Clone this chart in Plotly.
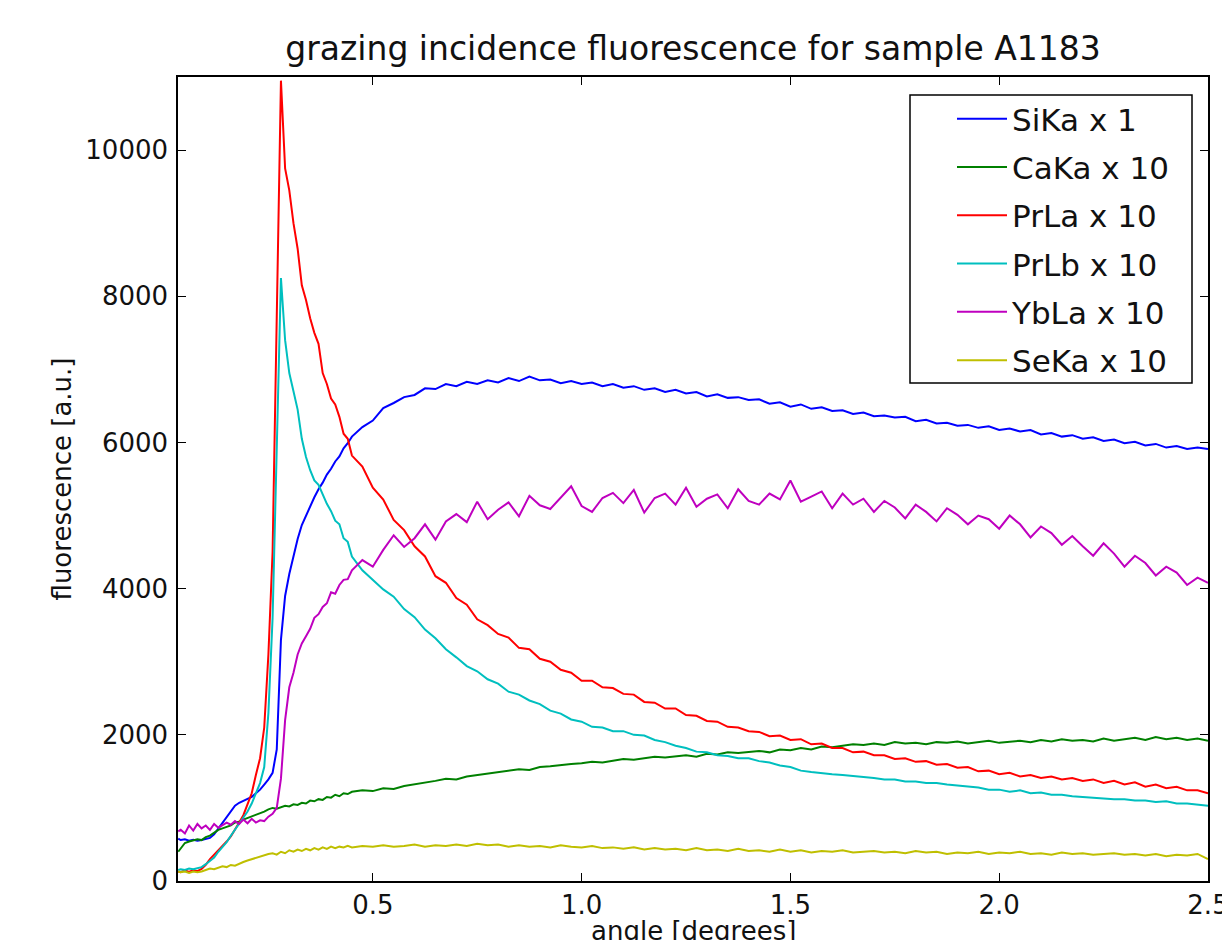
import plotly.graph_objects as go

# angle grid [degrees]
angle = [0.034, 0.04, 0.05, 0.06, 0.07, 0.08, 0.09, 0.10, 0.11, 0.12, 0.13, 0.14, 0.15,
         0.16, 0.17, 0.18, 0.19, 0.20, 0.21, 0.22, 0.23, 0.24, 0.25, 0.26, 0.27, 0.28,
         0.29, 0.30, 0.31, 0.32, 0.33, 0.34, 0.35, 0.36, 0.37, 0.38, 0.39, 0.40, 0.41,
         0.42, 0.43, 0.44, 0.45,
         0.475, 0.5, 0.525, 0.55, 0.575, 0.6, 0.625, 0.65, 0.675, 0.7,
         0.725, 0.75, 0.775, 0.8, 0.825, 0.85, 0.875, 0.9, 0.925, 0.95,
         0.975, 1.0, 1.025, 1.05, 1.075, 1.1, 1.125, 1.15, 1.175, 1.2,
         1.225, 1.25, 1.275, 1.3, 1.325, 1.35, 1.375, 1.4, 1.425, 1.45,
         1.475, 1.5, 1.525, 1.55, 1.575, 1.6, 1.625, 1.65, 1.675, 1.7,
         1.725, 1.75, 1.775, 1.8, 1.825, 1.85, 1.875, 1.9, 1.925, 1.95,
         1.975, 2.0, 2.025, 2.05, 2.075, 2.1, 2.125, 2.15, 2.175, 2.2,
         2.225, 2.25, 2.275, 2.3, 2.325, 2.35, 2.375, 2.4, 2.425, 2.45,
         2.475, 2.5]

sika = [580, 560, 570, 550, 565, 550, 560,
        570, 590, 640, 720, 800, 880, 960, 1030, 1070, 1100,
        1120, 1150, 1200, 1250, 1320, 1390, 1480, 1800, 3300, 3900,
        4200, 4450, 4680, 4870, 5000, 5130, 5250, 5360, 5450, 5560,
        5640, 5740, 5810, 5920, 5990, 6080,
        6210, 6300, 6470, 6540, 6620, 6650, 6740, 6730, 6800, 6770,
        6830, 6800, 6850, 6820, 6880, 6840, 6900, 6850, 6860, 6810,
        6840, 6800, 6820, 6770, 6800, 6750, 6770, 6720, 6740, 6690,
        6720, 6670, 6690, 6630, 6660, 6610, 6620, 6580, 6590, 6530,
        6550, 6490, 6520, 6460, 6480, 6430, 6440, 6390, 6410, 6360,
        6370, 6340, 6350, 6290, 6310, 6260, 6270, 6230, 6240, 6200,
        6220, 6170, 6190, 6150, 6170, 6110, 6130, 6080, 6100, 6050,
        6070, 6020, 6040, 5990, 6010, 5960, 5980, 5930, 5950, 5910,
        5930, 5910]

caka = [400, 450, 520, 540, 560, 570, 560,
        600, 620, 660, 700, 720, 740, 760, 800, 810, 840,
        860, 880, 900, 930, 950, 980, 1000, 990, 1010, 1030,
        1020, 1050, 1040, 1070, 1060, 1100, 1090, 1120, 1110, 1150,
        1140, 1180, 1160, 1200, 1190, 1220,
        1240, 1230, 1270, 1260, 1300, 1320, 1350, 1370, 1400, 1390,
        1430, 1450, 1480, 1500, 1510, 1530, 1520, 1560, 1570, 1590,
        1600, 1610, 1630, 1620, 1650, 1670, 1660, 1680, 1700, 1690,
        1710, 1720, 1700, 1740, 1730, 1760, 1750, 1770, 1780, 1760,
        1800, 1790, 1820, 1800, 1840, 1830, 1850, 1870, 1860, 1880,
        1860, 1900, 1880, 1890, 1870, 1900, 1890, 1910, 1880, 1900,
        1920, 1890, 1910, 1920, 1900, 1930, 1910, 1940, 1920, 1930,
        1910, 1950, 1920, 1940, 1960, 1930, 1970, 1940, 1960, 1930,
        1950, 1920]

prla = [130, 120, 145, 125, 150, 135, 165,
        220, 300, 360, 420, 470, 540, 610, 700, 800, 900,
        1050, 1200, 1450, 1680, 2100, 3100, 4500, 7800, 10950, 9750,
        9450, 9000, 8650, 8150, 7950, 7700, 7500, 7350, 6950, 6800,
        6600, 6520, 6350, 6120, 6050, 5820,
        5670, 5380, 5220, 4940, 4800, 4580, 4440, 4170, 4080, 3870,
        3780, 3580, 3500, 3380, 3330, 3190, 3170, 3040, 3000, 2890,
        2850, 2740, 2740, 2650, 2640, 2560, 2550, 2450, 2440, 2360,
        2360, 2270, 2260, 2190, 2180, 2110, 2100, 2050, 2040, 1980,
        1990, 1930, 1940, 1870, 1880, 1820, 1820, 1760, 1770, 1720,
        1720, 1670, 1680, 1630, 1640, 1590, 1600, 1550, 1560, 1500,
        1510, 1460, 1480, 1430, 1450, 1410, 1430, 1390, 1410, 1370,
        1390, 1340, 1370, 1320, 1350, 1290, 1320, 1270, 1290, 1240,
        1240, 1200]

prlb = [150, 160, 150, 170, 160, 175, 190,
        230, 270, 320, 400, 460, 530, 620, 700, 780, 860,
        950, 1060, 1200, 1340, 1560, 2300, 3600, 6000, 8250, 7400,
        6950, 6700, 6450, 6050, 5800, 5620, 5480, 5420, 5280, 5160,
        5060, 4930, 4880, 4690, 4640, 4440,
        4250, 4120, 3990, 3890, 3720, 3610, 3440, 3320, 3170, 3060,
        2940, 2870, 2760, 2700, 2590, 2550, 2470, 2420, 2330, 2290,
        2210, 2180, 2110, 2100, 2050, 2050, 2000, 1990, 1930, 1900,
        1850, 1820, 1770, 1760, 1720, 1710, 1680, 1680, 1640, 1620,
        1580, 1560, 1510, 1490, 1470, 1460, 1450, 1440, 1420, 1410,
        1390, 1390, 1360, 1360, 1340, 1340, 1320, 1310, 1290, 1280,
        1250, 1250, 1220, 1240, 1200, 1210, 1180, 1180, 1160, 1150,
        1140, 1140, 1120, 1120, 1100, 1100, 1080, 1090, 1060, 1060,
        1040, 1030]

ybla = [680, 700, 650, 760, 690, 780, 720,
        760, 700, 780, 730, 760, 800, 770, 820, 780, 840,
        790, 850, 800, 830, 820, 880, 920, 1000, 1400, 2200,
        2650, 2850, 3100, 3250, 3350, 3450, 3600, 3650, 3750, 3800,
        3950, 3930, 4050, 4120, 4130, 4250,
        4390, 4300, 4530, 4730, 4570, 4690, 4880, 4670, 4920, 5020,
        4910, 5190, 4950, 5080, 5180, 4990, 5270, 5140, 5090, 5250,
        5400, 5130, 5050, 5240, 5310, 5170, 5350, 5040, 5240, 5300,
        5150, 5380, 5120, 5230, 5290, 5100, 5360, 5200, 5150, 5300,
        5220, 5480, 5190, 5260, 5330, 5100, 5300, 5150, 5230, 5050,
        5200, 5110, 4960, 5150, 5050, 4920, 5100, 5010, 4880, 5000,
        4950, 4820, 5000, 4880, 4700, 4850, 4760, 4600, 4720, 4580,
        4450, 4620, 4480, 4300, 4450, 4350, 4180, 4300, 4220, 4050,
        4150, 4080]

seka = [130, 120, 130, 110, 130, 120, 130,
        150, 170, 160, 180, 200, 190, 220, 210, 240, 260,
        280, 300, 320, 340, 350, 370, 380, 360, 400, 380,
        420, 400, 430, 410, 440, 420, 450, 430, 460, 440,
        470, 450, 470, 460, 480, 460,
        480, 470, 490, 470, 480, 500, 470, 490, 480, 500,
        480, 510, 490, 500, 470, 490, 470, 480, 460, 490,
        470, 460, 480, 450, 460, 440, 460, 430, 450, 430,
        440, 420, 450, 420, 430, 410, 440, 410, 420, 400,
        430, 400, 420, 390, 410, 400, 420, 390, 400, 410,
        390, 400, 380, 410, 390, 400, 370, 390, 380, 400,
        370, 390, 380, 400, 370, 380, 360, 390, 370, 380,
        360, 370, 380, 360, 370, 350, 370, 340, 360, 350,
        370, 300]

series_names = ["SiKa x 1", "CaKa x 10", "PrLa x 10", "PrLb x 10", "YbLa x 10", "SeKa x 10"]
series_values = [sika, caka, prla, prlb, ybla, seka]
series_colors = ["#0000ff", "#008000", "#ff0000", "#00bfbf", "#bf00bf", "#bfbf00"]

x_tickvals = [0.5, 1.0, 1.5, 2.0, 2.5]
x_ticktext = ["0.5", "1.0", "1.5", "2.0", "2.5"]
y_tickvals = [0, 2000, 4000, 6000, 8000, 10000]
y_ticktext = ["0", "2000", "4000", "6000", "8000", "10000"]

for v in series_values:
    assert len(v) == len(angle), (len(v), len(angle))

FONT = "DejaVu Sans"
TXT = "#111111"

# The page body adds an 8px offset; work in figure pixels.
OFF = 8
FW, FH = 1230 - OFF, 940 - OFF
L, R, T, B = 178 - OFF, 1208 - OFF, 77 - OFF, 881 - OFF
def px_x(p): return (p - OFF - L) / (R - L)
def px_y(p): return (B - (p - OFF)) / (B - T)

fig = go.Figure()
for i, (name, vals, col) in enumerate(zip(series_names, series_values, series_colors)):
    fig.add_trace(go.Scatter(x=angle, y=vals, mode="lines", name=name,
                             legendgroup=f"g{i}",
                             line=dict(color=col, width=2)))

axis_common = dict(showline=True, linecolor="black", linewidth=1.5, mirror="allticks",
                   ticks="inside", ticklen=8, tickwidth=1, tickcolor="black",
                   showgrid=False, zeroline=False, automargin=False,
                   tickfont=dict(family=FONT, size=26, color=TXT))

fig.update_layout(
    width=FW, height=FH,
    paper_bgcolor="white", plot_bgcolor="white",
    margin=dict(l=L, r=FW - R, t=T, b=FH - B),
    title=dict(text="grazing incidence fluorescence for sample A1183",
               font=dict(family=FONT, size=33, color=TXT),
               x=0.5, xref="paper", xanchor="center",
               y=1 - (48 - OFF) / FH, yref="container", yanchor="middle"),
    xaxis=dict(range=[0.0335, 2.5], tickvals=x_tickvals, ticktext=x_ticktext,
               **axis_common),
    yaxis=dict(range=[0, 11000], tickvals=y_tickvals, ticktext=y_ticktext,
               ticklabelstandoff=3,
               title=dict(text="fluorescence [a.u.]", font=dict(family=FONT, size=26, color=TXT),
                          standoff=6),
               **axis_common),
    legend=dict(x=px_x(952), y=px_y(92), xanchor="left", yanchor="top",
                xref="paper", yref="paper",
                bgcolor="rgba(0,0,0,0)", borderwidth=0,
                font=dict(family=FONT, size=31, color=TXT),
                tracegroupgap=5, traceorder="grouped", itemwidth=50),
    showlegend=True,
    annotations=[dict(text="angle [degrees]", xref="paper", yref="paper",
                      x=0.5, y=px_y(931), xanchor="center", yanchor="middle",
                      showarrow=False, font=dict(family=FONT, size=26, color=TXT))],
    shapes=[dict(type="rect", xref="paper", yref="paper",
                 x0=px_x(910), x1=px_x(1192), y0=px_y(383), y1=px_y(95),
                 line=dict(color="black", width=1.5), fillcolor="rgba(0,0,0,0)",
                 layer="above")],
)

fig.write_html("out.html")
